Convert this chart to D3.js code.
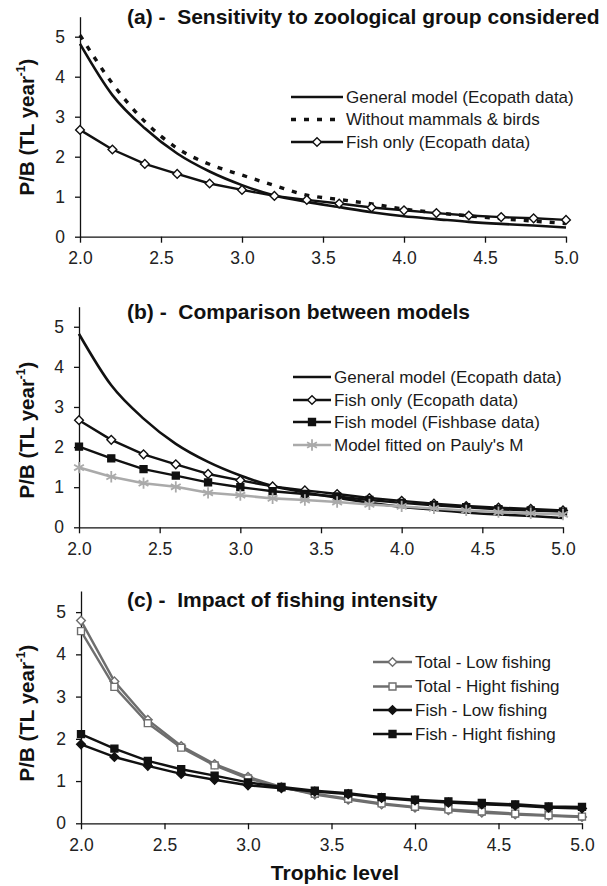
<!DOCTYPE html>
<html>
<head>
<meta charset="utf-8">
<script src="https://cdn.jsdelivr.net/npm/d3@7"></script>
<style>
  body { margin: 0; background: #fff; }
  svg { display: block; font-family: Arial, "Liberation Sans", sans-serif; }
</style>
</head>
<body>
<svg id="chart" width="607" height="886"></svg>
<script>
// trophic levels (x values shared by all series)
const trophicLevels = [2.0, 2.2, 2.4, 2.6, 2.8, 3.0, 3.2, 3.4, 3.6, 3.8, 4.0, 4.2, 4.4, 4.6, 4.8, 5.0];
const xTicks = [2.0, 2.5, 3.0, 3.5, 4.0, 4.5, 5.0];
const yTicks = [0, 1, 2, 3, 4, 5];

// panel (a) + (b)
const generalModel = [4.82, 3.54, 2.71, 2.08, 1.63, 1.29, 1.03, 0.87, 0.74, 0.61, 0.51, 0.44, 0.37, 0.32, 0.28, 0.23];
const withoutMammalsBirds = [5.04, 3.83, 2.88, 2.21, 1.81, 1.54, 1.28, 1.04, 0.93, 0.82, 0.69, 0.6, 0.52, 0.45, 0.39, 0.33];
const fishOnly = [2.67, 2.18, 1.82, 1.57, 1.33, 1.17, 1.02, 0.92, 0.83, 0.73, 0.66, 0.59, 0.53, 0.49, 0.46, 0.42];
// panel (b)
const fishModel = [2.01, 1.72, 1.45, 1.29, 1.12, 1.0, 0.9, 0.83, 0.77, 0.68, 0.61, 0.55, 0.5, 0.45, 0.42, 0.39];
const paulyModel = [1.49, 1.26, 1.1, 1.01, 0.86, 0.8, 0.72, 0.68, 0.63, 0.57, 0.52, 0.47, 0.42, 0.38, 0.35, 0.32];
// panel (c)
const totalLow = [4.8, 3.36, 2.45, 1.83, 1.4, 1.1, 0.86, 0.68, 0.56, 0.45, 0.37, 0.31, 0.25, 0.21, 0.18, 0.15];
const totalHigh = [4.55, 3.23, 2.37, 1.79, 1.37, 1.06, 0.85, 0.7, 0.58, 0.47, 0.39, 0.33, 0.28, 0.23, 0.19, 0.16];
const fishLow = [1.87, 1.57, 1.36, 1.17, 1.03, 0.9, 0.83, 0.75, 0.69, 0.6, 0.54, 0.49, 0.45, 0.42, 0.37, 0.35];
const fishHigh = [2.11, 1.77, 1.48, 1.28, 1.13, 0.97, 0.86, 0.77, 0.71, 0.62, 0.56, 0.52, 0.48, 0.45, 0.4, 0.39];

const panels = [
  {
    title: '(a) -  Sensitivity to zoological group considered',
    x0: 80, x1: 566, yBottom: 236.7, yTop: 16.7, titleY: 17, ylabY: 127,
    legend: { x0: 291, x1: 343, rows: [97, 119.5, 142] },
    series: [
      { name: 'General model (Ecopath data)', values: generalModel, color: '#111', width: 2.6, smooth: true },
      { name: 'Without mammals & birds', values: withoutMammalsBirds, color: '#111', width: 3.4, dash: '5,8', smooth: true },
      { name: 'Fish only (Ecopath data)', values: fishOnly, color: '#111', width: 2.4, marker: 'diamond', fill: '#fff' }
    ]
  },
  {
    title: '(b) -  Comparison between models',
    x0: 79, x1: 563, yBottom: 527.3, yTop: 306.7, titleY: 312, ylabY: 430,
    legend: { x0: 293, x1: 331, rows: [377, 400, 422, 445] },
    series: [
      { name: 'General model (Ecopath data)', values: generalModel, color: '#111', width: 2.6, smooth: true },
      { name: 'Fish only (Ecopath data)', values: fishOnly, color: '#111', width: 2.4, marker: 'diamond', fill: '#fff' },
      { name: 'Fish model (Fishbase data)', values: fishModel, color: '#111', width: 2.4, marker: 'square', fill: '#111' },
      { name: "Model fitted on Pauly's M", values: paulyModel, color: '#aaa', width: 2.6, marker: 'asterisk' }
    ]
  },
  {
    title: '(c) -  Impact of fishing intensity',
    x0: 81, x1: 582, yBottom: 823.3, yTop: 591, titleY: 600, ylabY: 713,
    legend: { x0: 373, x1: 412, rows: [662, 686.5, 710, 734] },
    series: [
      { name: 'Total - Low fishing', values: totalLow, color: '#6e6e6e', width: 2.4, marker: 'diamond', fill: '#fff' },
      { name: 'Total - Hight fishing', values: totalHigh, color: '#6e6e6e', width: 2.4, marker: 'square', fill: '#fff' },
      { name: 'Fish - Low fishing', values: fishLow, color: '#111', width: 2.4, marker: 'diamond', fill: '#111' },
      { name: 'Fish - Hight fishing', values: fishHigh, color: '#111', width: 2.4, marker: 'square', fill: '#111' }
    ]
  }
];

const svg = d3.select('#chart');

function drawMarker(g, s, cx, cy) {
  if (!s.marker) return;
  if (s.marker === 'diamond') {
    g.append('path')
      .attr('d', d3.symbol(d3.symbolSquare, 38)())
      .attr('transform', `translate(${cx},${cy}) rotate(45)`)
      .attr('fill', s.fill).attr('stroke', s.color).attr('stroke-width', 1.4);
  } else if (s.marker === 'square') {
    g.append('path')
      .attr('d', d3.symbol(d3.symbolSquare, 48)())
      .attr('transform', `translate(${cx},${cy})`)
      .attr('fill', s.fill).attr('stroke', s.color).attr('stroke-width', 1.4);
  } else if (s.marker === 'asterisk') {
    g.append('path')
      .attr('d', d3.symbol(d3.symbolAsterisk, 90)())
      .attr('transform', `translate(${cx},${cy})`)
      .attr('fill', 'none').attr('stroke', s.color).attr('stroke-width', 1.8);
  }
}

panels.forEach((p, i) => {
  const x = d3.scaleLinear().domain([2, 5]).range([p.x0, p.x1]);
  const y = d3.scaleLinear().domain([0, 5.5]).range([p.yBottom, p.yTop]);
  const g = svg.append('g');

  // axes
  const xAxis = g.append('g')
    .attr('transform', `translate(0,${p.yBottom})`)
    .call(d3.axisBottom(x).tickValues(xTicks).tickFormat(d3.format('.1f')).tickSize(6).tickSizeOuter(0).tickPadding(5));
  const yAxis = g.append('g')
    .attr('transform', `translate(${p.x0},0)`)
    .call(d3.axisLeft(y).tickValues(yTicks).tickFormat(d3.format('d')).tickSize(5).tickSizeOuter(0).tickPadding(10));
  [xAxis, yAxis].forEach(a => {
    a.select('.domain').attr('stroke', '#111').attr('stroke-width', 1.3);
    a.selectAll('.tick line').attr('stroke', '#111').attr('stroke-width', 1.3);
    a.selectAll('.tick text').attr('font-size', 17.5).attr('fill', '#222')
      .attr('font-family', 'Arial, "Liberation Sans", sans-serif');
  });
  xAxis.selectAll('.tick text').attr('dy', '0.95em');

  // series
  p.series.forEach(s => {
    const line = d3.line()
      .x((d, j) => x(trophicLevels[j]))
      .y(d => y(d))
      .curve(s.smooth ? d3.curveMonotoneX : d3.curveLinear);
    g.append('path')
      .datum(s.values)
      .attr('d', line)
      .attr('fill', 'none')
      .attr('stroke', s.color)
      .attr('stroke-width', s.width)
      .attr('stroke-dasharray', s.dash || null)
      .attr('stroke-linejoin', 'round');
    if (s.marker) {
      const mg = g.append('g');
      s.values.forEach((v, j) => drawMarker(mg, s, x(trophicLevels[j]), y(v)));
    }
  });

  // legend
  const lg = g.append('g');
  p.series.forEach((s, k) => {
    const ly = p.legend.rows[k];
    lg.append('line')
      .attr('x1', p.legend.x0).attr('x2', p.legend.x1)
      .attr('y1', ly).attr('y2', ly)
      .attr('stroke', s.color).attr('stroke-width', s.width)
      .attr('stroke-dasharray', s.dash || null);
    drawMarker(lg, s, (p.legend.x0 + p.legend.x1) / 2, ly);
    lg.append('text')
      .attr('x', p.legend.x1 + 3).attr('y', ly)
      .attr('dy', '0.35em')
      .attr('font-size', 17)
      .attr('fill', '#1a1a1a')
      .text(s.name);
  });

  // title
  g.append('text')
    .attr('x', 127).attr('y', p.titleY).attr('dy', '0.35em')
    .attr('font-size', 21).attr('font-weight', 'bold').attr('fill', '#111')
    .style('white-space', 'pre')
    .text(p.title);

  // y label
  const yl = g.append('text')
    .attr('transform', `translate(27,${p.ylabY}) rotate(-90)`)
    .attr('text-anchor', 'middle').attr('dy', '0.35em')
    .attr('font-size', 20.5).attr('font-weight', 'bold').attr('fill', '#111');
  yl.append('tspan').text('P/B (TL year');
  yl.append('tspan').attr('font-size', 12).attr('dy', '-0.75em').text('-1');
  yl.append('tspan').attr('dy', '0.45em').text(')');
});

// shared x label
svg.append('text')
  .attr('x', 335).attr('y', 873).attr('dy', '0.35em')
  .attr('text-anchor', 'middle')
  .attr('font-size', 21).attr('font-weight', 'bold').attr('fill', '#111')
  .text('Trophic level');
</script>
</body>
</html>
